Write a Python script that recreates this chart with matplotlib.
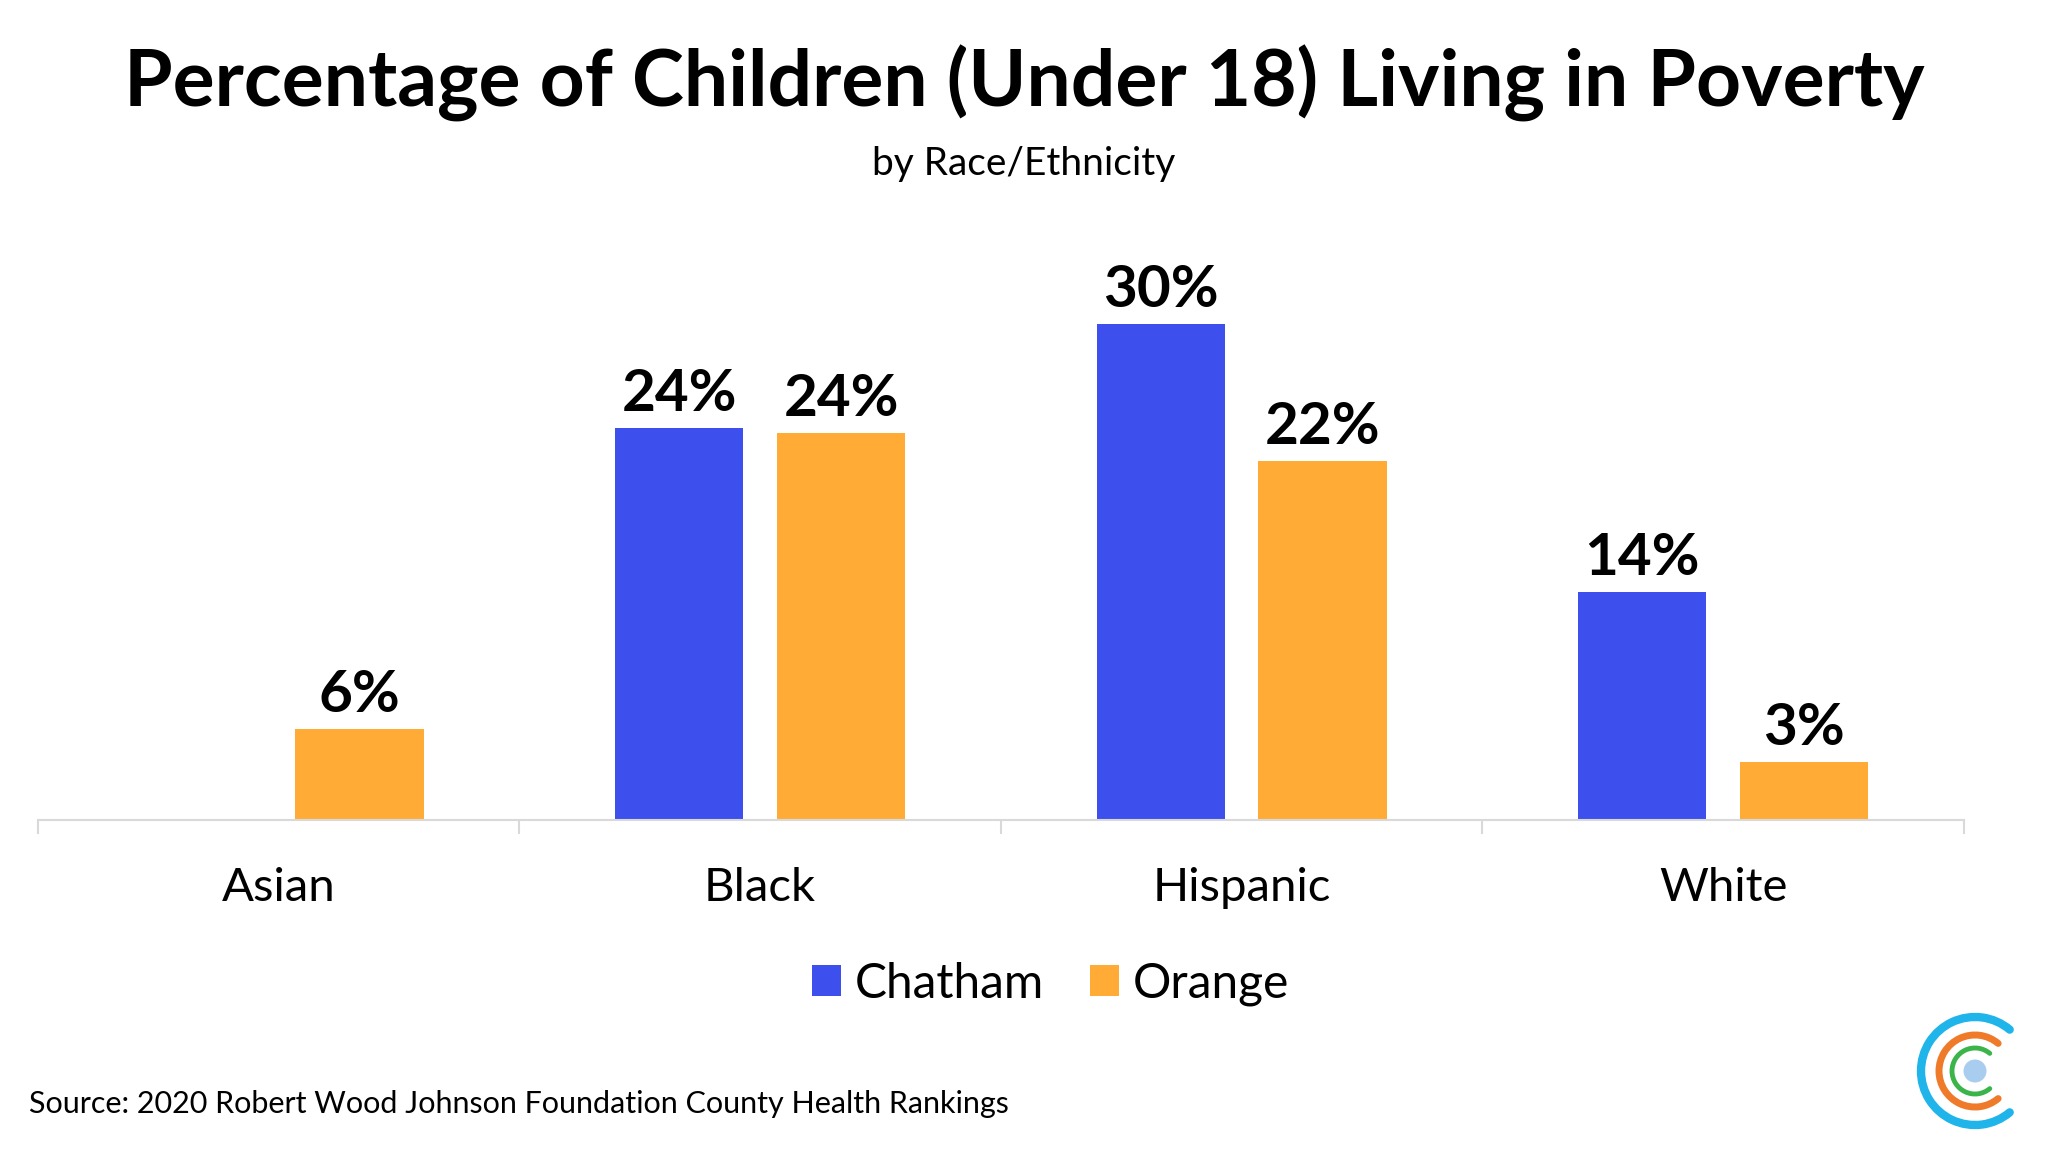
import numpy as np
import matplotlib
matplotlib.use("Agg")
import matplotlib.pyplot as plt
from matplotlib.patches import Arc, Circle

plt.rcParams['font.family'] = ['Lato', 'DejaVu Sans']

# data
categories = ['Asian', 'Black', 'Hispanic', 'White']
series = ['Chatham', 'Orange']
chatham = [np.nan, 23.7, 30.0, 13.8]
orange = [5.5, 23.4, 21.7, 3.5]
chatham_labels = ['', '24%', '30%', '14%']
orange_labels = ['6%', '24%', '22%', '3%']

blue = '#3d50ee'
gold = '#ffab36'

fig = plt.figure(figsize=(20.48, 11.52), dpi=100)
ax = fig.add_axes([0.0185, 0.288, 0.9404, 0.4884])

x = np.arange(len(categories))
w = 0.266
off = 0.168
b1 = ax.bar(x - off, chatham, w, color=blue, label=series[0])
b2 = ax.bar(x + off, orange, w, color=gold, label=series[1])

for bars, labs in ((b1, chatham_labels), (b2, orange_labels)):
    for rect, lab in zip(bars, labs):
        h = rect.get_height()
        if lab == '' or np.isnan(h):
            continue
        ax.annotate(lab, (rect.get_x() + rect.get_width() / 2, h),
                    xytext=(0, 5), textcoords='offset points',
                    ha='center', va='bottom', fontsize=42, fontweight='bold')

ax.set_xlim(-0.5, 3.5)
ax.set_ylim(0, 34)
for s in ['top', 'right', 'left']:
    ax.spines[s].set_visible(False)
ax.spines['bottom'].set_color('#d9d9d9')
ax.spines['bottom'].set_linewidth(1.5)
ax.set_yticks([])
ax.set_xticks(np.arange(-0.5, 4, 1))
ax.set_xticklabels([])
ax.tick_params(axis='x', which='major', length=10, width=1.5, color='#d9d9d9')
ax.set_xticks(x, minor=True)
ax.set_xticklabels(categories, minor=True, fontsize=34)
ax.tick_params(axis='x', which='minor', length=0, pad=34)

fig.text(0.5, 0.928, 'Percentage of Children (Under 18) Living in Poverty',
         ha='center', va='center', fontsize=56.5, fontweight='bold')
fig.text(0.5, 0.858, 'by Race/Ethnicity', ha='center', va='center', fontsize=28)

fig.legend(handles=[b1, b2], loc='center', bbox_to_anchor=(0.513, 0.146), ncol=2,
           frameon=False, fontsize=34.5, handlelength=0.6, handleheight=0.6,
           handletextpad=0.3, columnspacing=0.95)

fig.text(0.014, 0.042, 'Source: 2020 Robert Wood Johnson Foundation County Health Rankings',
         ha='left', va='center', fontsize=22)

# logo
lax = fig.add_axes([1910 / 2048, 0.0, 138 / 2048, 152 / 1152])
lax.set_xlim(0, 138)
lax.set_ylim(0, 152)
lax.set_aspect('equal')
lax.axis('off')
cx, cy = 65, 152 - 71
for r, col, lw in ((54, '#1fb5ea', 6), (36, '#ef7a2a', 5), (23, '#3bb54a', 3.5)):
    a = Arc((cx, cy), 2 * r, 2 * r, theta1=50, theta2=310, color=col, lw=lw)
    a.set_capstyle('round')
    lax.add_patch(a)
lax.add_patch(Circle((cx, cy), 11.5, color='#a9cdee', lw=0))

fig.savefig('out.png', dpi=100)
